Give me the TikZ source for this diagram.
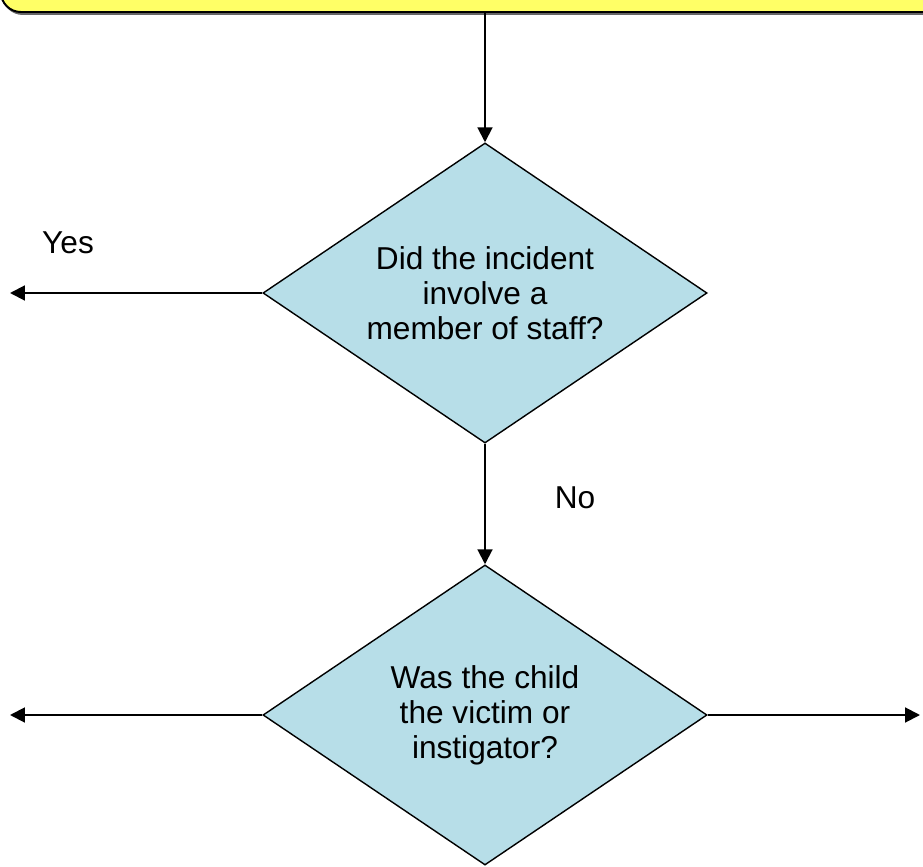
\documentclass[tikz,border=0pt]{standalone}
\usepackage{fontspec}
\setmainfont{Liberation Sans}
\usetikzlibrary{shapes.geometric,arrows.meta}
\definecolor{notefill}{RGB}{255,255,102}
\definecolor{askfill}{RGB}{183,222,232}
\begin{document}
\begin{tikzpicture}[x=0.025cm,y=-0.025cm,font=\fontsize{22.5}{25}\selectfont]
\tikzset{
% Two node styles for the flow chart: notice box and question diamond
note box/.style={rectangle,draw,line width=1.4pt,fill=notefill,rounded corners=0.5cm,minimum width=26cm,minimum height=2.6cm},
ask node/.style={diamond,draw,line width=1pt,fill=askfill,aspect=1.48,inner sep=0,minimum width=11.1cm,minimum height=7.5cm,align=center},
arr/.style={line width=1.4pt,-{Triangle[length=10.5pt,width=10.5pt]}}
}
\useasboundingbox (0,0) rectangle (923,867);

% The notice at the top, with its shadow
\node(shadow)[note box,draw=black!60,fill=black!60] at (523,-38) {};
\node(note)[note box] at (521,-40) {};

% The questions
\node(q1)[ask node] at (485,293) {Did the incident\\ involve a\\ member of staff?};
\node(q2)[ask node] at (485,715) {Was the child\\ the victim or\\ instigator?};

% free ends of the side arrows
\coordinate(yesend) at (10,293);
\coordinate(leftend) at (10,715);
\coordinate(rightend) at (920,715);

% connectors
\draw[arr] (q1.north |- note.south) -- (q1.north);
\draw[arr] (q1.west) -- (yesend);
\draw[arr] (q1.south) -- (q2.north);
\draw[arr] (q2.west) -- (leftend);
\draw[arr] (q2.east) -- (rightend);

% answers
\node(yes) at (68,243) {Yes};
\node(no) at (575,498) {No};
\end{tikzpicture}
\end{document}
